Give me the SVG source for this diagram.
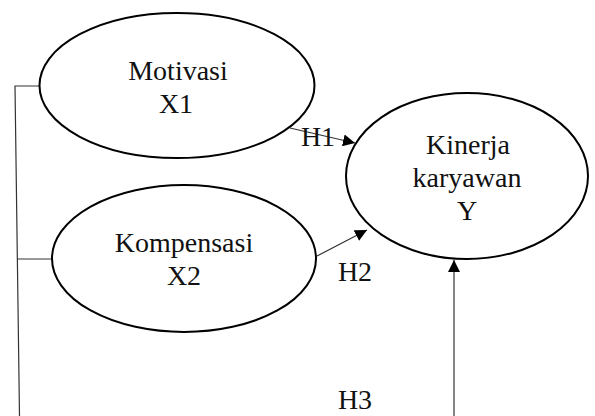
<svg xmlns="http://www.w3.org/2000/svg" width="595" height="416" viewBox="0 0 595 416">
<defs>
<style>
.node ellipse{fill:#fff;stroke:#000;stroke-width:2}
.lbl{font-family:"Liberation Serif","Times New Roman",serif;font-size:28px;fill:#111;text-anchor:middle}
.conn line,.conn polyline{stroke:#333;stroke-width:1.2;fill:none}
</style>
<marker id="ah" viewBox="0 0 12 12" refX="12" refY="6" markerWidth="12" markerHeight="12" markerUnits="userSpaceOnUse" orient="auto">
<path d="M0,0 L12,6 L0,12 Z" fill="#000"/>
</marker>
</defs>
<rect width="595" height="416" fill="#fff"/>
<g class="conn" id="connectors">
<polyline points="39.5,86 15,86 19.5,416"/>
<line x1="17" y1="259" x2="52" y2="259"/>
<line x1="290" y1="128" x2="355" y2="143" marker-end="url(#ah)"/>
<line x1="317" y1="256" x2="367" y2="230" marker-end="url(#ah)"/>
<line x1="454" y1="416" x2="454" y2="260" marker-end="url(#ah)"/>
</g>
<g class="node" id="motivasi">
<ellipse cx="177" cy="85.5" rx="137.5" ry="72.5"/>
<text class="lbl" x="178" y="80">Motivasi</text>
<text class="lbl" x="176" y="113">X1</text>
</g>
<g class="node" id="kompensasi">
<ellipse cx="184" cy="258.5" rx="132" ry="73.5"/>
<text class="lbl" x="184" y="252">Kompensasi</text>
<text class="lbl" x="184" y="285">X2</text>
</g>
<g class="node" id="kinerja">
<ellipse cx="467" cy="176" rx="121" ry="83"/>
<text class="lbl" x="468" y="154">Kinerja</text>
<text class="lbl" x="467" y="187">karyawan</text>
<text class="lbl" x="467" y="220">Y</text>
</g>
<g id="edge-labels">
<text class="lbl" x="318" y="146">H1</text>
<text class="lbl" x="355" y="281">H2</text>
<text class="lbl" x="355" y="409">H3</text>
</g>
</svg>
